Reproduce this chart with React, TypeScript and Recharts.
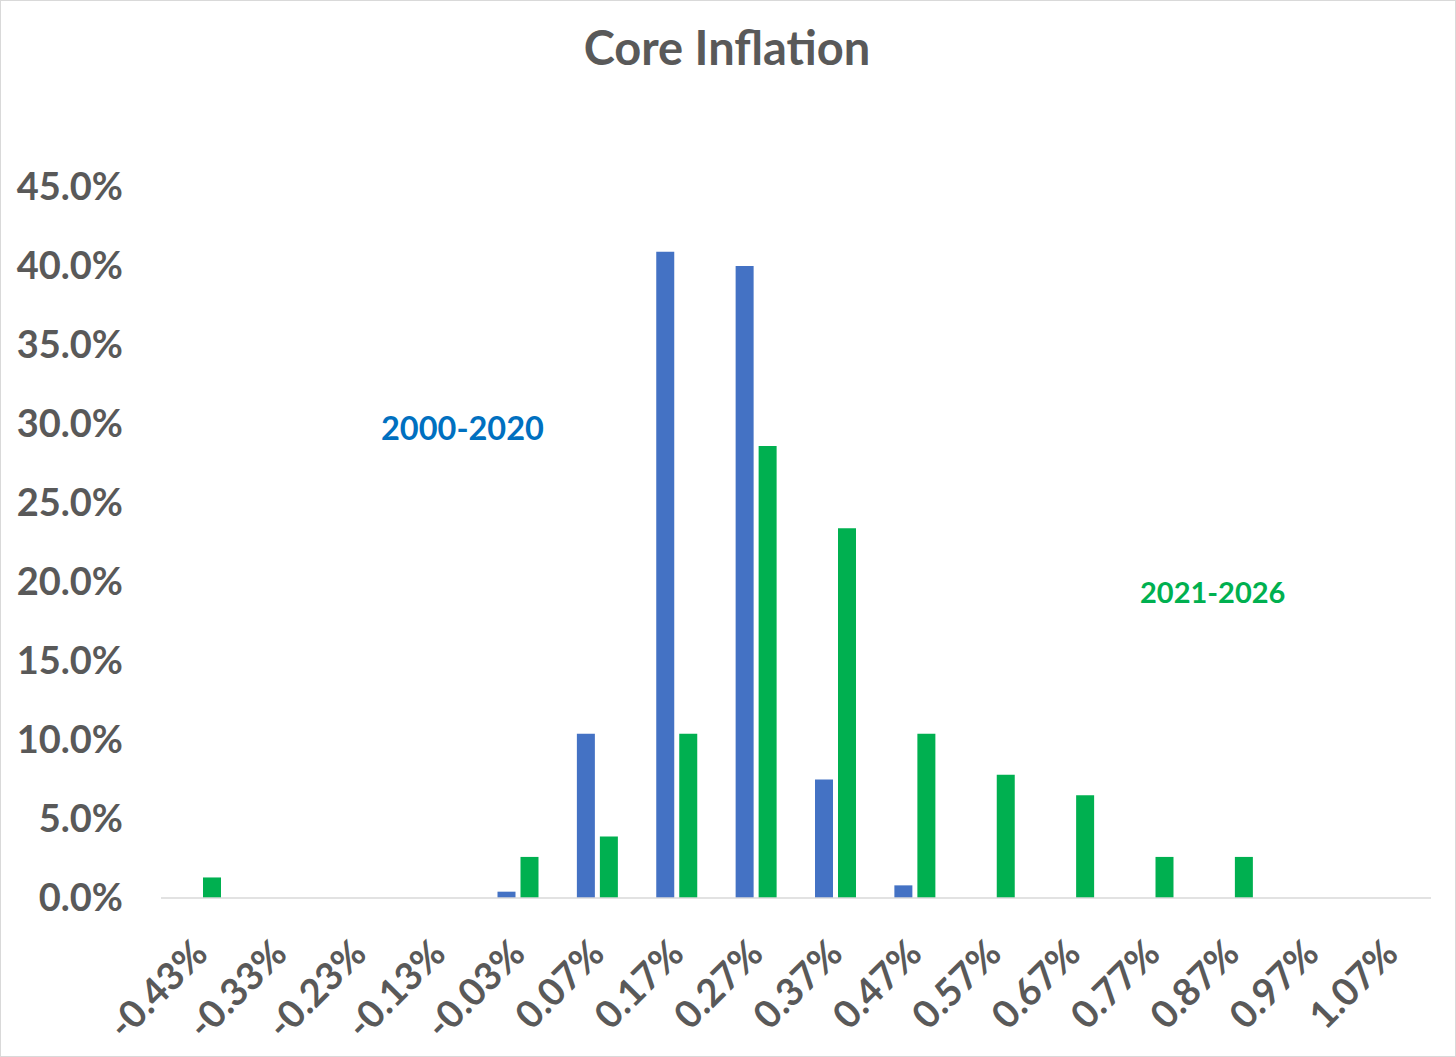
import { BarChart, Bar, XAxis, YAxis } from "recharts";

const categories = [
  "-0.43%", "-0.33%", "-0.23%", "-0.13%", "-0.03%", "0.07%", "0.17%", "0.27%",
  "0.37%", "0.47%", "0.57%", "0.67%", "0.77%", "0.87%", "0.97%", "1.07%",
];

// share of months in each bucket, in percent
const period2000to2020 = [0, 0, 0, 0, 0.4, 10.4, 40.9, 40.0, 7.5, 0.8, 0, 0, 0, 0, 0, 0];
const period2021to2026 = [1.3, 0, 0, 0, 2.6, 3.9, 10.4, 28.6, 23.4, 10.4, 7.8, 6.5, 2.6, 2.6, 0, 0];

const yTicks = [0, 5, 10, 15, 20, 25, 30, 35, 40, 45];

const data = categories.map((bucket, i) => ({
  bucket,
  early: period2000to2020[i],
  late: period2021to2026[i],
}));

const FONT = "Lato, 'Open Sans', sans-serif";
const GREY = "#595959";

function RotatedTick({ x, y, payload }: any) {
  const ax = x + 9;
  const ay = y + 50;
  return (
    <text
      x={ax}
      y={ay}
      transform={`rotate(-45 ${ax} ${ay})`}
      textAnchor="end"
      fill={GREY}
      fontFamily={FONT}
      fontWeight={700}
      fontSize={38}
    >
      {payload.value}
    </text>
  );
}

export default function App() {
  return (
    <div style={{ position: "relative", width: 1456, height: 1057, background: "#fff" }}>
      <style>{`body{margin:0}`}</style>
      <BarChart
        width={1456}
        height={1057}
        data={data}
        margin={{ top: 187, right: 25, left: 0, bottom: 19 }}
        barSize={18}
        barGap={5}
      >
        <XAxis
          dataKey="bucket"
          interval={0}
          height={140}
          tickLine={false}
          axisLine={{ stroke: "#d9d9d9", strokeWidth: 1.5 }}
          tick={<RotatedTick />}
        />
        <YAxis
          width={161}
          domain={[0, 45]}
          ticks={yTicks}
          axisLine={false}
          tickLine={false}
          tickMargin={32}
          tickFormatter={(v: number) => v.toFixed(1) + "%"}
          tick={{ fill: GREY, fontFamily: FONT, fontWeight: 700, fontSize: 38 }}
        />
        <Bar dataKey="early" fill="#4472C4" isAnimationActive={false} />
        <Bar dataKey="late" fill="#00B050" isAnimationActive={false} />
      </BarChart>
      <svg
        width={1456}
        height={1057}
        style={{ position: "absolute", left: 0, top: 0, pointerEvents: "none" }}
      >
        <text x={727} y={65} textAnchor="middle" fill={GREY} fontFamily={FONT} fontWeight={700} fontSize={47}>
          Core Inflation
        </text>
        <text x={381} y={440} fill="#0070C0" fontFamily={FONT} fontWeight={700} fontSize={32.5}>
          2000-2020
        </text>
        <text x={1140} y={603} fill="#00B050" fontFamily={FONT} fontWeight={700} fontSize={29}>
          2021-2026
        </text>
        <rect x={0.5} y={0.5} width={1455} height={1056} fill="none" stroke="#d9d9d9" strokeWidth={1} />
      </svg>
    </div>
  );
}
